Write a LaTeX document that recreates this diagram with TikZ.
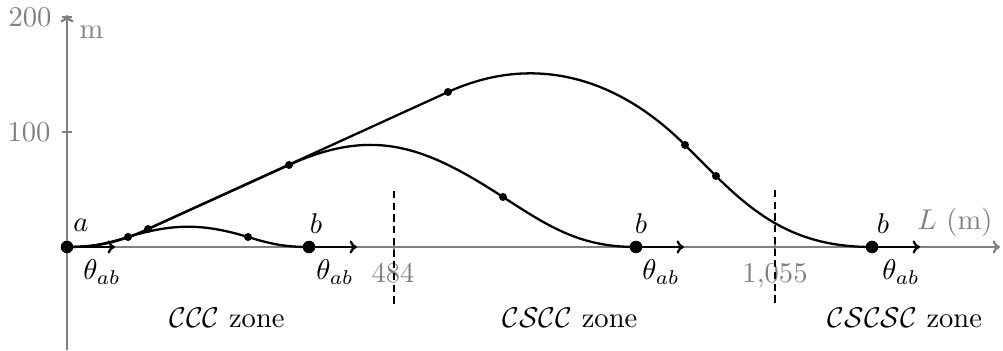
\documentclass[tikz,border=0pt]{standalone}
\usetikzlibrary{arrows.meta}
\begin{document}
\begin{tikzpicture}[x=0.35pt,y=0.35pt,
  >={To[length=2.6pt,width=4.6pt]},
  axis/.style={gray, thick},
  curve/.style={black, thick},
  dashline/.style={black, thick, dash pattern=on 2.5pt off 1.6pt},
  sdot/.style={circle, fill=black, inner sep=0pt, minimum size=2.8pt},
  bdot/.style={circle, fill=black, inner sep=0pt, minimum size=4.4pt},
  glbl/.style={gray, inner sep=0pt},
  blbl/.style={black, inner sep=0pt}
]
\useasboundingbox (-67,-104) rectangle (936,247);
% axes
\coordinate (yb) at (0,-103);
\coordinate (yt) at (0,232);
\coordinate (O) at (0,0);
\coordinate (xe) at (933,0);
\draw[axis,->] (yb) -- (yt);
\draw[axis,->] (O) -- (xe);
\draw[axis] (-5,115) -- (5,115);
\draw[axis] (-5,230) -- (5,230);
\draw[axis] (327,-5) -- (327,5);
\draw[axis] (708,-5) -- (708,5);
\node[glbl, anchor=east] (l200) at (-15,230) {200};
\node[glbl, anchor=east] (l100) at (-16,115) {100};
\node[glbl, anchor=base west] (lm) at (12,208) {m};
\node[glbl, anchor=base east] (lL) at (926,17) {$L$ (m)};
\node[glbl, anchor=base] (l484) at (326,-36) {484};
\node[glbl, anchor=base] (l1055) at (708,-36) {1,055};
% dashed zone borders
\coordinate (d1t) at (327,56); \coordinate (d1b) at (327,-58);
\coordinate (d2t) at (708,57); \coordinate (d2b) at (708,-57);
\draw[dashline] (d1t) -- (d1b);
\draw[dashline] (d2t) -- (d2b);
% path points
\coordinate (pa) at (0,0);
\coordinate (c1) at (61,10);
\coordinate (c2) at (181,10);
\coordinate (b1) at (242,0);
\coordinate (s1) at (81,18);
\coordinate (t1) at (222,82);
\coordinate (t2) at (436,50);
\coordinate (b2) at (569,0);
\coordinate (u1) at (381,155);
\coordinate (u2) at (618,102);
\coordinate (u3) at (649,71);
\coordinate (b3) at (805,0);
% theta arrows
\coordinate (ta) at (48,0);
\coordinate (tb1) at (290,0);
\coordinate (tb2) at (617,0);
\coordinate (tb3) at (853,0);
\draw[curve,->] (pa) -- (ta);
\draw[curve,->] (b1) -- (tb1);
\draw[curve,->] (b2) -- (tb2);
\draw[curve,->] (b3) -- (tb3);
% curves
\draw[curve] (pa) to[out=0,in=197] (c1) to[out=17,in=163] (c2) to[out=-17,in=180] (b1);
\draw[curve] (pa) to[out=0,in=204.4] (s1) -- (t1) to[out=24.4,in=147,looseness=1.1] (t2) to[out=-33,in=180] (b2);
\draw[curve] (s1) -- (u1) to[out=24.4,in=135] (u2) -- (u3) to[out=-45,in=180] (b3);
% dots
\node[bdot] (na) at (pa) {};
\node[bdot] (nb1) at (b1) {};
\node[bdot] (nb2) at (b2) {};
\node[bdot] (nb3) at (b3) {};
\foreach \p in {c1,c2,s1,t1,t2,u1,u2,u3} \node[sdot] (n\p) at (\p) {};
% labels
\node[blbl, anchor=base] (la) at (14,15) {$a$};
\node[blbl, anchor=base] (lb1) at (249,13) {$b$};
\node[blbl, anchor=base] (lb2) at (574,13) {$b$};
\node[blbl, anchor=base] (lb3) at (816,13) {$b$};
\node[blbl, anchor=base] (th0) at (35,-33) {$\theta_{ab}$};
\node[blbl, anchor=base] (th1) at (268,-33) {$\theta_{ab}$};
\node[blbl, anchor=base] (th2) at (594,-33) {$\theta_{ab}$};
\node[blbl, anchor=base] (th3) at (834,-33) {$\theta_{ab}$};
\node[blbl, anchor=base] (z1) at (160,-81) {$\mathcal{CCC}$ zone};
\node[blbl, anchor=base] (z2) at (503,-81) {$\mathcal{CSCC}$ zone};
\node[blbl, anchor=base] (z3) at (838,-81) {$\mathcal{CSCSC}$ zone};
\end{tikzpicture}
\end{document}
